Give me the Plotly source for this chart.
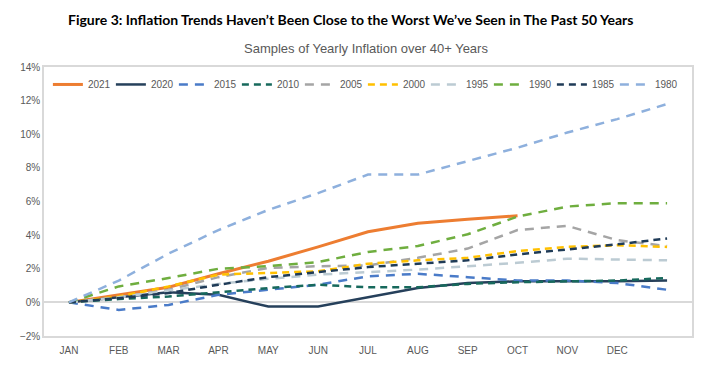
import plotly.graph_objects as go

months = ["JAN", "FEB", "MAR", "APR", "MAY", "JUN", "JUL", "AUG", "SEP", "OCT", "NOV", "DEC", " "]

y2021 = [0, 0.45, 0.9, 1.7, 2.45, 3.3, 4.2, 4.7, 4.95, 5.15]
y2020 = [0, 0.3, 0.6, 0.45, -0.25, -0.25, 0.3, 0.85, 1.15, 1.25, 1.25, 1.25, 1.3]
y2015 = [0, -0.45, -0.15, 0.45, 0.75, 1.05, 1.55, 1.7, 1.5, 1.3, 1.3, 1.15, 0.75]
y2010 = [0, 0.2, 0.35, 0.6, 0.85, 1.05, 0.9, 0.9, 1.1, 1.2, 1.25, 1.3, 1.45]
y2005 = [0, 0.3, 0.75, 1.5, 2.05, 2.15, 2.2, 2.65, 3.2, 4.3, 4.55, 3.7, 3.35]
y2000 = [0, 0.35, 0.95, 1.65, 1.75, 1.85, 2.3, 2.5, 2.65, 3.05, 3.3, 3.4, 3.3]
y1995 = [0, 0.3, 0.7, 1.1, 1.4, 1.65, 1.8, 1.95, 2.15, 2.35, 2.6, 2.55, 2.5]
y1990 = [0, 0.95, 1.45, 2.0, 2.15, 2.4, 3.0, 3.35, 4.05, 5.1, 5.7, 5.9, 5.9]
y1985 = [0, 0.25, 0.55, 1.05, 1.5, 1.8, 2.1, 2.3, 2.5, 2.85, 3.15, 3.45, 3.8]
y1980 = [0, 1.3, 2.9, 4.3, 5.5, 6.5, 7.6, 7.6, 8.4, 9.2, 10.1, 10.9, 11.8]

series = [
    ("2021", y2021, "#ED7D31", "solid", 3),
    ("2020", y2020, "#26405B", "solid", 2.5),
    ("2015", y2015, "#4A7BC8", "9px,7px", 2.5),
    ("2010", y2010, "#17695C", "7px,5px", 2.5),
    ("2005", y2005, "#A5A5A5", "9px,7px", 2.5),
    ("2000", y2000, "#FFC000", "7px,5px", 2.5),
    ("1995", y1995, "#BCCBD3", "9px,7px", 2.5),
    ("1990", y1990, "#6FAE3F", "9px,7px", 2.5),
    ("1985", y1985, "#1F3B57", "7px,5px", 2.5),
    ("1980", y1980, "#8EB0DD", "9px,7px", 2.5),
]

fig = go.Figure()
for name, vals, color, dash, w in series:
    fig.add_trace(go.Scatter(
        x=months[:len(vals)], y=vals, name=name, mode="lines",
        line=dict(color=color, dash=dash, width=w),
    ))

fig.update_layout(
    width=704, height=356,
    margin=dict(l=36, r=20, t=59, b=28),
    paper_bgcolor="white", plot_bgcolor="white",
    font=dict(family="Liberation Sans", size=10, color="#595959"),
    annotations=[
        dict(text="<b>Figure 3: Inflation Trends Haven’t Been Close to the Worst We’ve Seen in The Past 50 Years</b>",
             xref="paper", yref="paper", x=0.5, y=1, xanchor="center", yanchor="top",
             yshift=58, xshift=-18, showarrow=False,
             font=dict(family="Lato", size=14, color="black")),
        dict(text="Samples of Yearly Inflation over 40+ Years",
             xref="paper", yref="paper", x=0.5, y=1, xanchor="center", yanchor="bottom",
             yshift=9, xshift=-2, showarrow=False,
             font=dict(family="Liberation Sans", size=13, color="#595959")),
    ],
    legend=dict(orientation="h", x=0.006, y=0.989, xanchor="left", yanchor="top",
                font=dict(size=10, color="#595959"), bgcolor="rgba(0,0,0,0)",
                entrywidth=18, entrywidthmode="pixels", tracegroupgap=0),
    showlegend=True,
)
fig.update_xaxes(type="category", categoryorder="array", categoryarray=months,
                 range=[-0.5, 12.5], showline=True, linecolor="#D9D9D9", linewidth=1.5,
                 mirror=True, showgrid=False, ticks="", ticklabelstandoff=4, automargin=False,
                 tickfont=dict(size=10, color="#595959"))
fig.update_yaxes(range=[-2, 14], dtick=2, ticksuffix="%", showline=True, linecolor="#D9D9D9",
                 linewidth=1.5, mirror=True, showgrid=False, zeroline=True, automargin=False,
                 zerolinecolor="#D9D9D9", zerolinewidth=1.5, ticks="",
                 tickfont=dict(size=10, color="#595959"))

fig.write_html("out.html")
